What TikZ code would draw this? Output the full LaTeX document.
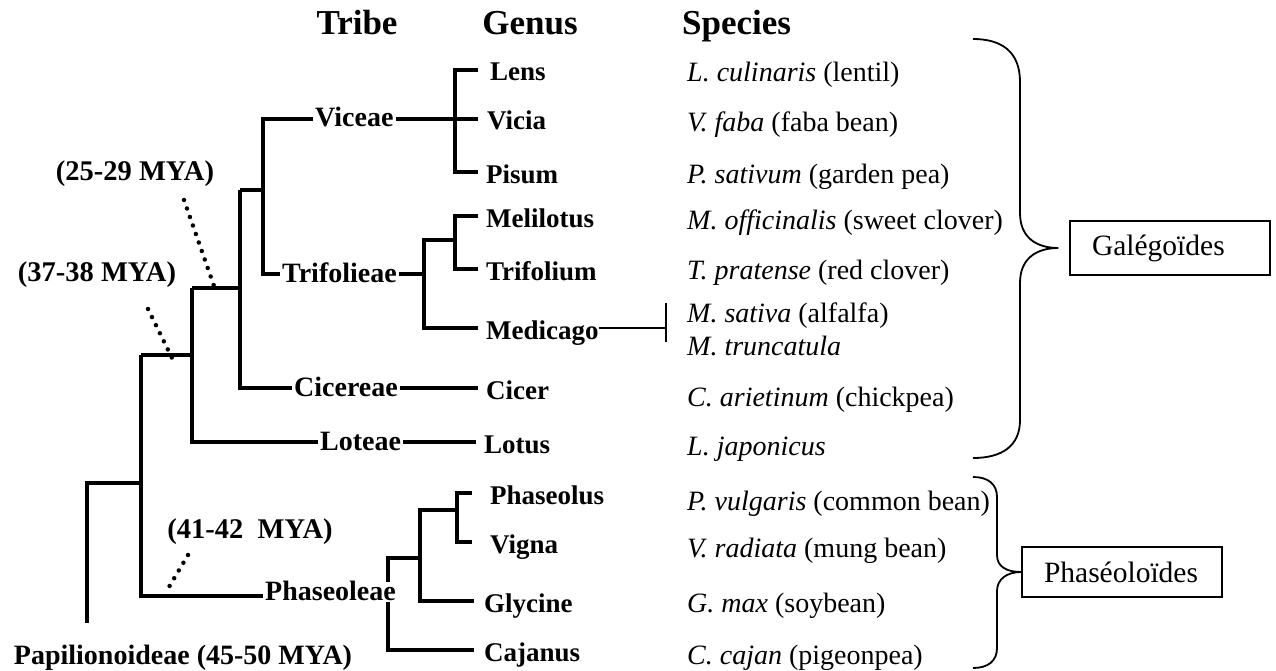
\documentclass[tikz,border=0pt]{standalone}
\usepackage{fontspec}
\setmainfont{Liberation Serif}
\usetikzlibrary{positioning,calc}

\begin{document}
\begin{tikzpicture}[x=1pt,y=-1pt,
  branch/.style={line width=3.6pt},
  thinline/.style={line width=1.8pt},
  dots/.style={line width=4.5pt,line cap=round,dash pattern=on 0pt off 9pt},
  brace/.style={line width=1.8pt},
  head/.style={font=\bfseries\fontsize{35}{38}\selectfont,inner sep=0pt,anchor=base},
  tribe/.style={font=\bfseries\fontsize{28}{30}\selectfont,text height=16pt,text depth=0pt,
                inner xsep=2pt,inner ysep=2pt,anchor=west},
  genus/.style={font=\bfseries\fontsize{27}{30}\selectfont,text height=22pt,text depth=0pt,
                inner sep=0pt,anchor=west},
  species/.style={font=\fontsize{28}{30}\selectfont,inner sep=0pt,anchor=base west},
  mya/.style={font=\bfseries\fontsize{28.5}{30}\selectfont,inner sep=0pt,anchor=base},
  group/.style={draw,line width=1.5pt,font=\fontsize{29.5}{32}\selectfont,
                text width=156pt,inner xsep=22pt,align=left}]
  \useasboundingbox (0,0) rectangle (1276,671);

  % column heads
  \node[head] (hTribe) at (357,35) {Tribe};
  \node[head] (hGenus) at (530,35) {Genus};
  \node[head,anchor=base west] (hSpecies) at (682,35) {Species};

  % tribes
  \node[tribe] (viceae)     at (313,119) {Viceae};
  \node[tribe] (trifolieae) at (280,274) {Trifolieae};
  \node[tribe] (cicereae)   at (292,388) {Cicereae};
  \node[tribe] (loteae)     at (318,442) {Loteae};
  \node[tribe,fill=white] (phaseoleae) at (263,592) {Phaseoleae};

  % genera
  \node[genus] (lens)      at (490,70)  {Lens};
  \node[genus] (vicia)     at (487,119) {Vicia};
  \node[genus] (pisum)     at (486,172) {Pisum};
  \node[genus] (melilotus) at (486,216) {Melilotus};
  \node[genus] (trifolium) at (486,269) {Trifolium};
  \node[genus] (medicago)  at (486,328) {Medicago};
  \node[genus] (cicer)     at (486,388) {Cicer};
  \node[genus] (lotus)     at (484,442) {Lotus};
  \node[genus] (phaseolus) at (490,493) {Phaseolus};
  \node[genus] (vigna)     at (490,542) {Vigna};
  \node[genus] (glycine)   at (484,601) {Glycine};
  \node[genus] (cajanus)   at (484,650) {Cajanus};

  % species
  \node[species] (sLens)  at (687,82)  {\textit{L. culinaris} (lentil)};
  \node[species] (sVicia) at (687,132) {\textit{V. faba} (faba bean)};
  \node[species] (sPisum) at (687,183) {\textit{P. sativum} (garden pea)};
  \node[species] (sMeli)  at (687,229) {\textit{M. officinalis} (sweet clover)};
  \node[species] (sTrif)  at (687,279) {\textit{T. pratense} (red clover)};
  \node[species] (sSat)   at (687,322) {\textit{M. sativa} (alfalfa)};
  \node[species] (sTrunc) at (687,355) {\textit{M. truncatula}};
  \node[species] (sCicer) at (687,406) {\textit{C. arietinum} (chickpea)};
  \node[species] (sLotus) at (687,455) {\textit{L. japonicus}};
  \node[species] (sPhas)  at (687,510) {\textit{P. vulgaris} (common bean)};
  \node[species] (sVigna) at (687,557) {\textit{V. radiata} (mung bean)};
  \node[species] (sGly)   at (687,612) {\textit{G. max} (soybean)};
  \node[species] (sCaj)   at (687,664) {\textit{C. cajan} (pigeonpea)};

  % ages
  \node[mya] (mya1) at (135,181) {(25-29 MYA)};
  \node[mya] (mya2) at (97,281)  {(37-38 MYA)};
  \node[mya] (mya3) at (250,538) {(41-42~~MYA)};
  \node[mya,font=\bfseries\fontsize{28}{30}\selectfont] (papil) at (183,664) {Papilionoideae (45-50 MYA)};

  % groups
  \node[group,minimum height=54pt] (galeg)  at (1170,248) {Galégoïdes};
  \node[group,minimum height=50pt] (phaseo) at (1122,572) {Phaséoloïdes};

  % tree
  \coordinate (root) at (87,623);
  \coordinate (pap)  at (141,483);
  \coordinate (gal)  at (141,355);
  \coordinate (gal2) at (192,355);
  \coordinate (inn)  at (192,288);
  \coordinate (inn2) at (240,288);
  \coordinate (vt)   at (240,190);
  \coordinate (vt2)  at (263,190);
  \coordinate (vbr)  at (455,119);
  \coordinate (tbr)  at (455,240);
  \coordinate (tri2) at (424,240);
  \coordinate (pbr)  at (388,558);
  \coordinate (pq)   at (420,510);
  \coordinate (pv)   at (457,510);
  \coordinate (mbar) at (666,328);

  \draw[branch] (root) |- (pap);
  \draw[branch] (gal) |- ([yshift=-4pt]phaseoleae.west);
  \draw[branch] (gal) -- (gal2);
  \draw[branch] (inn) |- (loteae.west);
  \draw[branch] (inn) -- (inn2);
  \draw[branch] (vt) |- (cicereae.west);
  \draw[branch] (vt) -- (vt2);
  \draw[branch] (viceae.west) -| (vt2) |- (trifolieae.west);

  \draw[branch] (viceae.east) -- ([xshift=-9pt]vicia.west);
  \draw[branch] ([xshift=-12pt]lens.west) -| (vbr) |- ([xshift=-8pt]pisum.west);
  \draw[branch] (trifolieae.east) -- (trifolieae.east -| tri2);
  \draw[branch] ([xshift=-8pt]melilotus.west) -| (tbr) |- ([xshift=-8pt]trifolium.west);
  \draw[branch] (tbr) -- (tri2) |- ([xshift=-8pt]medicago.west);
  \draw[branch] (cicereae.east) -- ([xshift=-8pt]cicer.west);
  \draw[branch] (loteae.east) -- ([xshift=-8pt]lotus.west);

  \draw[branch] (pbr |- phaseoleae.north) -- (pbr) -- (pbr -| pq);
  \draw[branch] (pbr |- phaseoleae.south) |- ([xshift=-10pt]cajanus.west);
  \draw[branch] ([xshift=-18pt]phaseolus.west) -| (pv) |- ([xshift=-18pt]vigna.west);
  \draw[branch] (pv) -- (pq) |- ([xshift=-10pt]glycine.west);

  \draw[thinline] (medicago.east) -- (mbar);
  \draw[thinline] ([yshift=25pt]mbar) -- ([yshift=-14pt]mbar);

  % dotted age marks
  \coordinate (d1s) at (184,200); \coordinate (d1e) at (214,286);
  \coordinate (d2s) at (148,309); \coordinate (d2e) at (172,358);
  \coordinate (d3s) at (188,555); \coordinate (d3e) at (169,587);
  \draw[dots] (d1s) -- (d1e);
  \draw[dots] (d2s) -- (d2e);
  \draw[dots] (d3s) -- (d3e);

  % braces
  \draw[brace] (973,39) .. controls (1002,39) and (1020,52) .. (1020,82) -- (1020,213)
    .. controls (1020,238) and (1037,248) .. ([xshift=-11pt]galeg.west)
    .. controls (1037,248) and (1020,258) .. (1020,283) -- (1020,420)
    .. controls (1020,446) and (1002,458) .. (973,458);
  \draw[brace] (973,477) .. controls (988,477) and (997,484) .. (997,497) -- (997,555)
    .. controls (997,567) and (1007,572) .. (phaseo.west)
    .. controls (1007,572) and (997,579) .. (997,591) -- (997,648)
    .. controls (997,661) and (988,668) .. (973,668);
\end{tikzpicture}
\end{document}
